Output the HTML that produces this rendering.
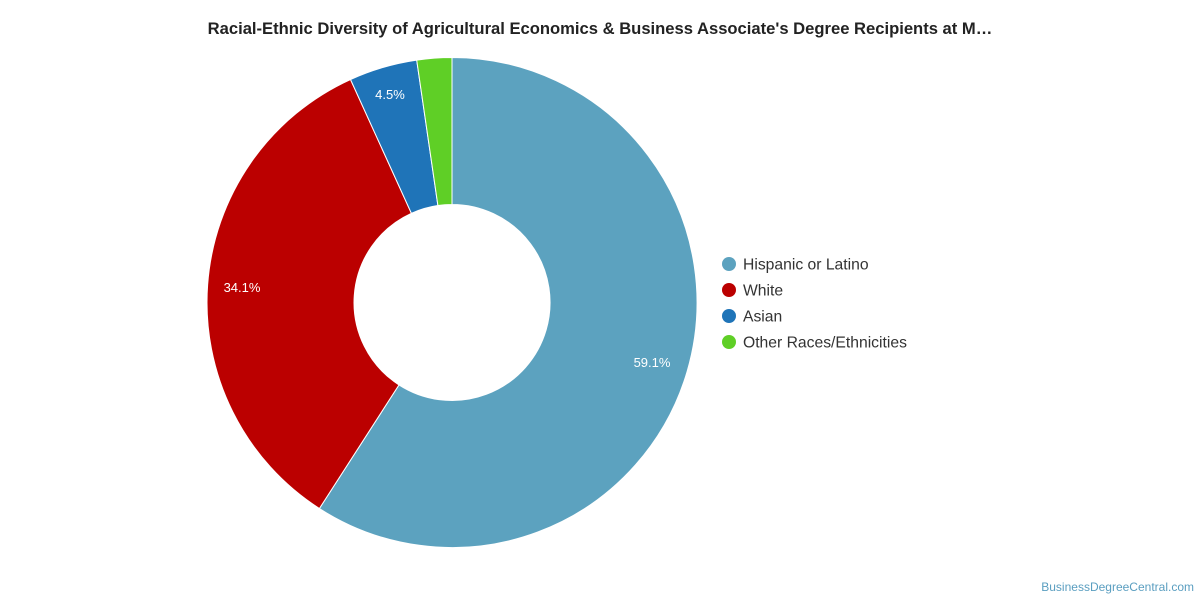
<!DOCTYPE html>
<html><head><meta charset="utf-8"><style>
html,body{margin:0;padding:0;background:#fff;}
svg{display:block;font-family:"Liberation Sans",Arial,sans-serif;}
</style></head><body>
<svg width="1200" height="600" viewBox="0 0 1200 600">
<text x="600" y="34" text-anchor="middle" font-size="16.6" font-weight="bold" fill="#222">Racial-Ethnic Diversity of Agricultural Economics &amp; Business Associate's Degree Recipients at M…</text>
<g stroke="#fff" stroke-width="1">
<path d="M452,57.5 A245,245 0 1 1 319.4,508.5 L399.0,384.9 A98,98 0 1 0 452,204.5 Z" fill="#5ca2bf"/>
<path d="M319.4,508.5 A245,245 0 0 1 350.5,79.5 L411.4,213.3 A98,98 0 0 0 399.0,384.9 Z" fill="#bb0000"/>
<path d="M350.5,79.5 A245,245 0 0 1 416.7,60.1 L437.9,205.5 A98,98 0 0 0 411.4,213.3 Z" fill="#1f74b8"/>
<path d="M416.7,60.1 A245,245 0 0 1 452,57.5 L452,204.5 A98,98 0 0 0 437.9,205.5 Z" fill="#5fcf26"/>
</g>
<g font-size="13" fill="#fff" text-anchor="middle">
<text x="652" y="367">59.1%</text>
<text x="242" y="292">34.1%</text>
<text x="390" y="99">4.5%</text>
</g>
<g font-size="15.7" fill="#333">
<circle cx="729" cy="264" r="7" fill="#5ca2bf"/><text x="743" y="269.5">Hispanic or Latino</text>
<circle cx="729" cy="290" r="7" fill="#bb0000"/><text x="743" y="295.5">White</text>
<circle cx="729" cy="316" r="7" fill="#1f74b8"/><text x="743" y="321.5">Asian</text>
<circle cx="729" cy="342" r="7" fill="#5fcf26"/><text x="743" y="347.5">Other Races/Ethnicities</text>
</g>
<text x="1194" y="591" text-anchor="end" font-size="12" fill="#5a9ec0">BusinessDegreeCentral.com</text>
</svg>
</body></html>
